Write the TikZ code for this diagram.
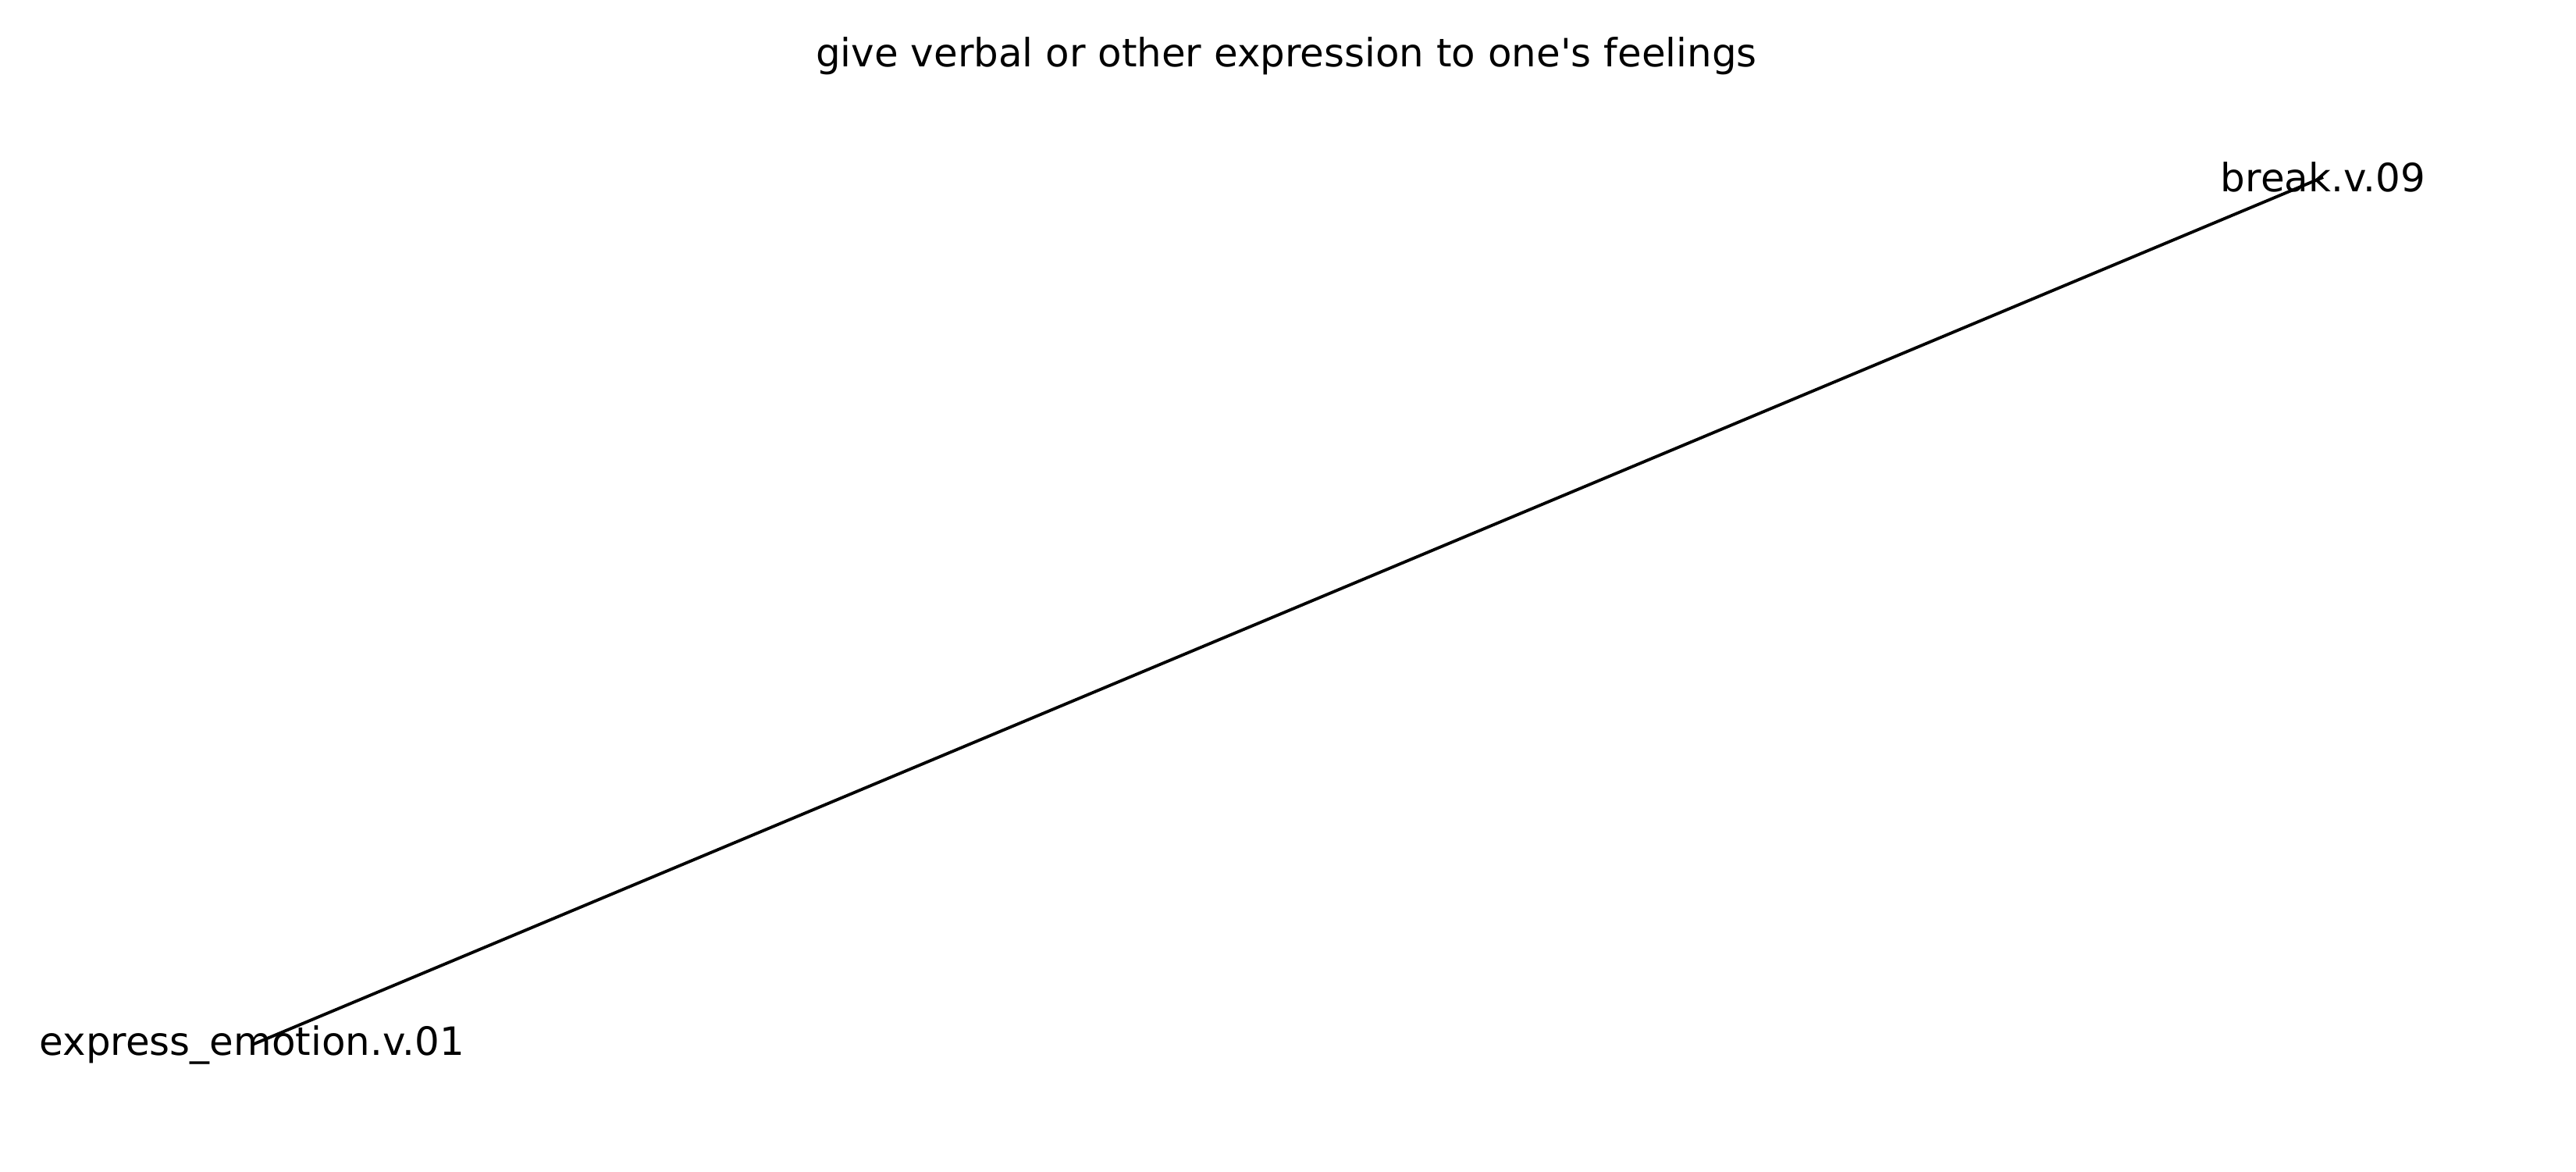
\documentclass[tikz,border=0pt]{standalone}
\usepackage{fontspec}
\setmainfont{DejaVu Sans}[Ligatures=TeXOff]
\usepackage{tikz}
\usetikzlibrary{positioning}
\tikzset{
  lbl/.style={font=\fontsize{14.2}{17}\selectfont, inner sep=0pt, text=black},
  ttl/.style={font=\fontsize{14.2}{17}\selectfont, inner sep=0pt, text=black},
  edg/.style={draw=black, line width=1.1pt},
}

\begin{document}
\begin{tikzpicture}
\useasboundingbox (0,0) rectangle (33,-15);
% title
\node[ttl] (title) at (16.48,-0.72) {give verbal or other expression to one's feelings};

% synsets
\node[lbl] (brk) at (29.76,-2.27) {break.v.09};
\node[lbl] (expr) at (3.23,-13.38) {express\_emotion.v.01};

% edge
\draw[edg] (expr.center) -- (brk.center);
\end{tikzpicture}
\end{document}
